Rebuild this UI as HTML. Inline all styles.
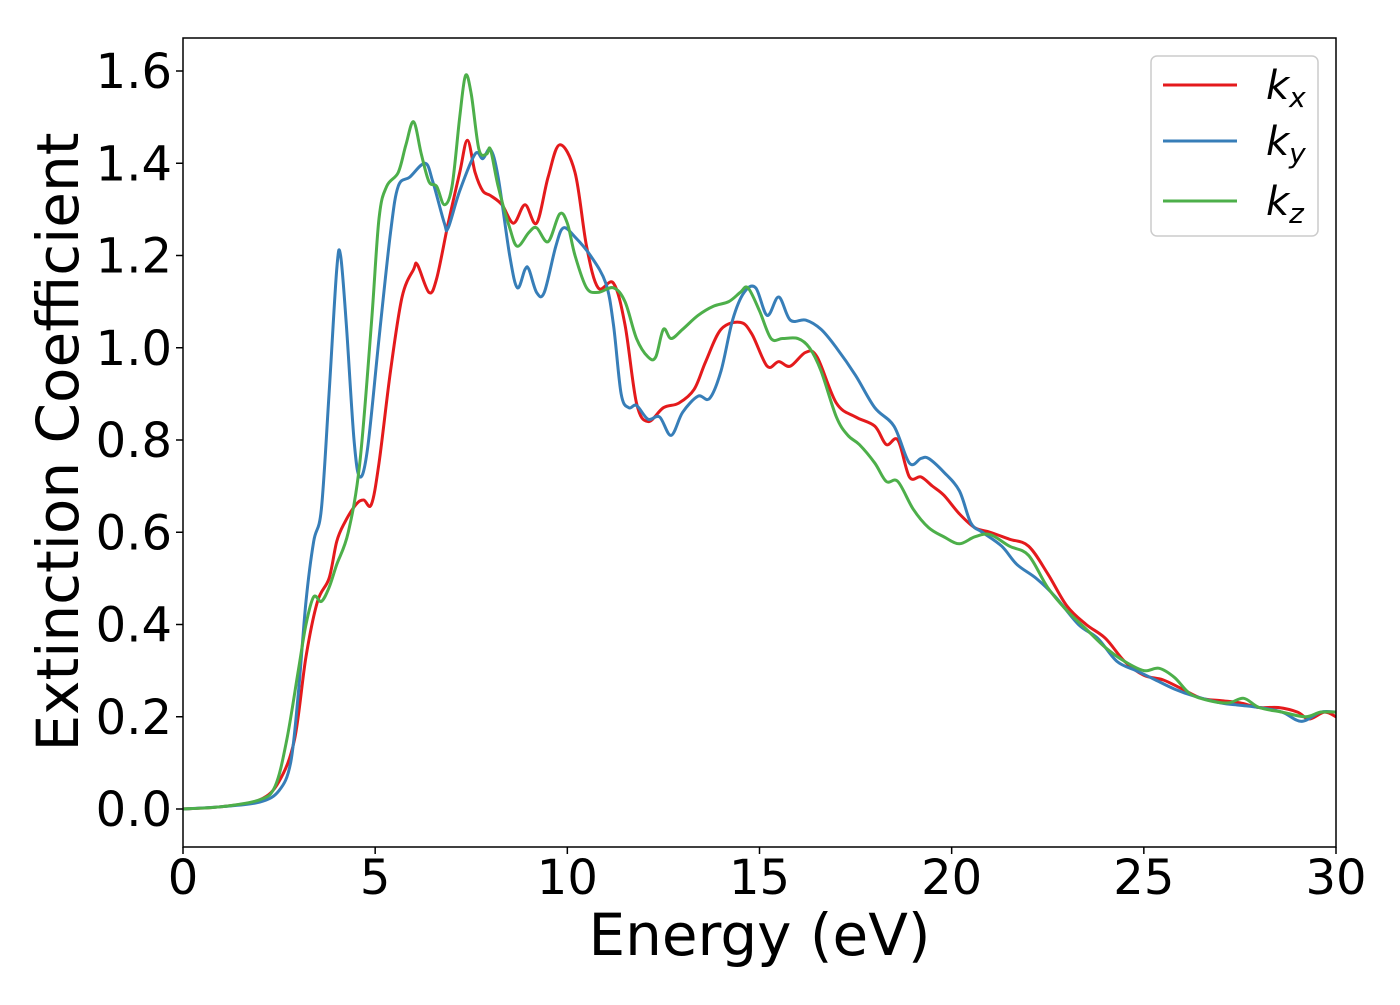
<!DOCTYPE html>
<html><head><meta charset="utf-8"><style>
body{margin:0;background:#fff;}
text{font-family:"DejaVu Sans","Liberation Sans",sans-serif;}
</style></head><body>
<svg id="chart" width="1400" height="1000" xmlns="http://www.w3.org/2000/svg">
<rect width="1400" height="1000" fill="#fff"/>
<g id="plot"></g>
<g id="axes"></g>
<g>
<rect x="1151" y="56" width="167" height="180" rx="6" fill="#fff" stroke="#ccc" stroke-width="1.5"/>
<line x1="1163" y1="85" x2="1237" y2="85" stroke="#e41a1c" stroke-width="3"/>
<text x="1266" y="99" font-size="40" font-style="italic">k<tspan font-size="28" dy="8">x</tspan></text>
<line x1="1163" y1="141" x2="1237" y2="141" stroke="#377eb8" stroke-width="3"/>
<text x="1266" y="155" font-size="40" font-style="italic">k<tspan font-size="28" dy="8">y</tspan></text>
<line x1="1163" y1="201" x2="1237" y2="201" stroke="#4daf4a" stroke-width="3"/>
<text x="1266" y="215" font-size="40" font-style="italic">k<tspan font-size="28" dy="8">z</tspan></text>
</g>
</svg>
<script>
const xTicks=[0,5,10,15,20,25,30];
const yTicks=[0,0.2,0.4,0.6,0.8,1.0,1.2,1.4,1.6];
const yTickLabels=["0.0","0.2","0.4","0.6","0.8","1.0","1.2","1.4","1.6"];
const kxE=[0,1,2,2.5,2.9,3.2,3.5,3.8,4.0,4.2,4.5,4.7,4.9,5.1,5.4,5.7,6.0,6.1,6.4,6.6,6.9,7.2,7.4,7.6,7.8,8.0,8.3,8.6,8.9,9.2,9.5,9.8,10.2,10.5,10.8,11.2,11.5,11.8,12.1,12.5,12.9,13.3,13.6,14.0,14.5,14.8,15.2,15.5,15.8,16.2,16.5,17.0,17.5,18.0,18.3,18.6,18.9,19.2,19.5,19.8,20.2,20.6,21.0,21.5,22.0,22.5,23.0,23.5,24.0,24.5,25.0,25.5,26.0,26.5,27.0,27.5,28.0,28.5,29.0,29.3,29.7,30];
const kxV=[0,0.005,0.02,0.06,0.15,0.33,0.45,0.5,0.58,0.62,0.66,0.67,0.66,0.75,0.95,1.11,1.17,1.18,1.12,1.15,1.27,1.38,1.45,1.38,1.34,1.33,1.31,1.27,1.31,1.27,1.37,1.44,1.38,1.22,1.13,1.14,1.05,0.88,0.84,0.87,0.88,0.91,0.97,1.04,1.055,1.03,0.96,0.97,0.96,0.99,0.98,0.88,0.85,0.83,0.79,0.80,0.72,0.72,0.70,0.68,0.64,0.61,0.60,0.585,0.57,0.51,0.44,0.40,0.37,0.32,0.29,0.28,0.26,0.24,0.235,0.23,0.22,0.22,0.21,0.195,0.21,0.20];
const kyE=[0,1,2,2.5,2.8,3.0,3.2,3.4,3.6,3.8,4.0,4.1,4.25,4.45,4.6,4.8,5.1,5.4,5.6,5.9,6.3,6.5,6.8,6.9,7.2,7.6,7.8,8.0,8.2,8.5,8.7,8.9,9.0,9.2,9.4,9.7,9.9,10.2,10.6,11.0,11.2,11.4,11.6,11.8,12.1,12.4,12.7,13.0,13.4,13.7,14.0,14.3,14.6,14.9,15.2,15.5,15.8,16.2,16.6,17.0,17.5,18.0,18.5,18.9,19.2,19.4,19.8,20.2,20.5,20.8,21.3,21.7,22.2,22.7,23.3,23.8,24.3,24.8,25.3,25.8,26.3,27.0,27.5,28.0,28.6,29.1,29.6,30];
const kyV=[0,0.005,0.015,0.04,0.1,0.25,0.45,0.58,0.65,0.9,1.17,1.2,1.05,0.8,0.72,0.78,1.02,1.25,1.35,1.37,1.40,1.36,1.27,1.26,1.34,1.42,1.41,1.43,1.37,1.20,1.13,1.17,1.17,1.12,1.12,1.22,1.26,1.24,1.2,1.14,1.05,0.90,0.87,0.875,0.845,0.85,0.81,0.86,0.895,0.89,0.95,1.06,1.12,1.13,1.07,1.11,1.06,1.06,1.04,1.00,0.94,0.87,0.83,0.75,0.76,0.76,0.73,0.69,0.62,0.6,0.57,0.53,0.50,0.46,0.40,0.37,0.32,0.30,0.28,0.26,0.245,0.23,0.225,0.22,0.21,0.19,0.21,0.21];
const kzE=[0,1,2,2.4,2.7,3.0,3.2,3.4,3.6,3.8,4.0,4.3,4.6,4.9,5.1,5.3,5.6,5.8,6.0,6.2,6.4,6.6,6.8,7.0,7.2,7.35,7.5,7.7,7.9,8.0,8.2,8.5,8.7,9.0,9.2,9.5,9.8,10.0,10.2,10.5,10.8,11.2,11.5,11.8,12.1,12.3,12.5,12.7,13.0,13.4,13.8,14.2,14.5,14.7,15.0,15.3,15.6,16.0,16.3,16.6,17.0,17.3,17.6,18.0,18.3,18.6,19.0,19.4,19.8,20.2,20.6,21.0,21.5,22.0,22.5,23.0,23.5,24.0,24.5,25.0,25.4,25.8,26.2,26.7,27.2,27.6,28.0,28.6,29.2,29.6,30];
const kzV=[0,0.005,0.02,0.05,0.15,0.3,0.4,0.46,0.45,0.48,0.53,0.6,0.75,1.05,1.28,1.35,1.38,1.44,1.49,1.42,1.36,1.35,1.31,1.35,1.50,1.59,1.55,1.43,1.42,1.43,1.35,1.26,1.22,1.25,1.26,1.23,1.29,1.27,1.2,1.13,1.12,1.13,1.10,1.02,0.98,0.98,1.04,1.02,1.04,1.07,1.09,1.10,1.12,1.13,1.08,1.02,1.02,1.02,1.0,0.95,0.85,0.81,0.79,0.75,0.71,0.71,0.65,0.61,0.59,0.575,0.59,0.595,0.57,0.55,0.48,0.43,0.39,0.35,0.32,0.30,0.305,0.285,0.25,0.235,0.23,0.24,0.22,0.21,0.20,0.21,0.21];

const X0=183,X1=1336,YT=38,YB=847;
const xs=e=>X0+(e/30)*(X1-X0);
const ys=v=>809-v*(809-71)/1.6;
const NS="http://www.w3.org/2000/svg";
function mk(tag,attrs,parent){const el=document.createElementNS(NS,tag);for(const k in attrs)el.setAttribute(k,attrs[k]);parent.appendChild(el);return el;}
function smooth(E,V){const p=E.map((e,i)=>[xs(e),ys(V[i])]);let d="M"+p[0][0]+","+p[0][1];
for(let i=0;i<p.length-1;i++){const a=p[Math.max(0,i-1)],b=p[i],c=p[i+1],n=p[Math.min(p.length-1,i+2)];
const c1=[b[0]+(c[0]-a[0])/6,b[1]+(c[1]-a[1])/6],c2=[c[0]-(n[0]-b[0])/6,c[1]-(n[1]-b[1])/6];
d+=" C"+c1[0].toFixed(2)+","+c1[1].toFixed(2)+" "+c2[0].toFixed(2)+","+c2[1].toFixed(2)+" "+c[0].toFixed(2)+","+c[1].toFixed(2);}return d;}
const plot=document.getElementById('plot');
mk('clipPath',{id:'clip'},plot).appendChild(Object.assign(document.createElementNS(NS,'rect'),{}));
plot.lastChild.firstChild.setAttribute('x',X0);plot.lastChild.firstChild.setAttribute('y',YT);plot.lastChild.firstChild.setAttribute('width',X1-X0);plot.lastChild.firstChild.setAttribute('height',YB-YT);
const series=[[kxE,kxV,'#e41a1c','line-kx'],[kyE,kyV,'#377eb8','line-ky'],[kzE,kzV,'#4daf4a','line-kz']];
series.forEach(s=>{const el=mk('path',{d:smooth(s[0],s[1]),fill:'none',stroke:s[2],'stroke-width':3,'clip-path':'url(#clip)'},plot);

});
const ax=document.getElementById('axes');
const fr=mk('rect',{x:X0,y:YT,width:X1-X0,height:YB-YT,fill:'none',stroke:'#000','stroke-width':1.5},ax);


xTicks.forEach(t=>{mk('line',{x1:xs(t),x2:xs(t),y1:YB,y2:YB+7,stroke:'#000','stroke-width':1.5},ax);
const tx=mk('text',{x:xs(t),y:YB+47,'font-size':48,'text-anchor':'middle'},ax);tx.textContent=t;

});
yTicks.forEach((t,i)=>{mk('line',{x1:X0-7,x2:X0,y1:ys(t),y2:ys(t),stroke:'#000','stroke-width':1.5},ax);
const tx=mk('text',{x:X0-11,y:ys(t)+17,'font-size':48,'text-anchor':'end'},ax);tx.textContent=yTickLabels[i];

});
const xl=mk('text',{x:(X0+X1)/2,y:955,'font-size':58,'text-anchor':'middle'},ax);xl.textContent='Energy (eV)';


const yl=mk('text',{x:0,y:0,'font-size':58,'text-anchor':'middle',transform:'translate(78,442) rotate(-90)'},ax);yl.textContent='Extinction Coefficient';


</script>
</body></html>
